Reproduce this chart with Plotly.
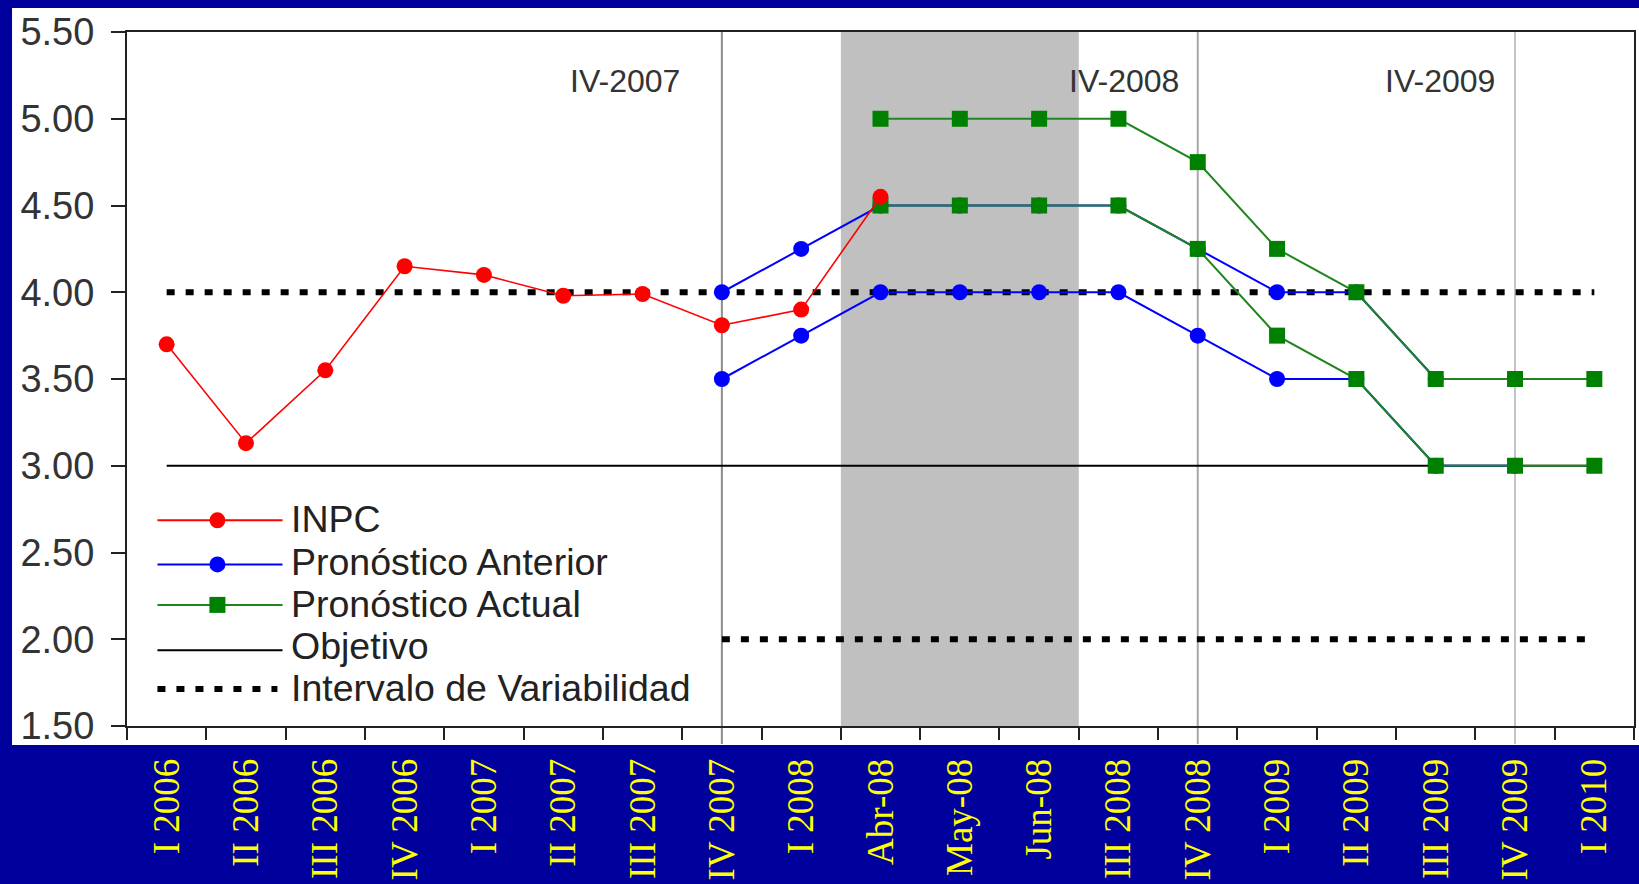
import plotly.graph_objects as go

# Trimestres / meses del eje horizontal
categorias = [
    "I 2006", "II 2006", "III 2006", "IV 2006", "I 2007", "II 2007", "III 2007",
    "IV 2007", "I 2008", "Abr-08", "May-08", "Jun-08", "III 2008", "IV 2008",
    "I 2009", "II 2009", "III 2009", "IV 2009", "I 2010",
]

# Inflación anual observada (INPC)
inpc = [3.70, 3.13, 3.55, 4.15, 4.10, 3.98, 3.99, 3.81, 3.90, 4.55,
        None, None, None, None, None, None, None, None, None]

# Pronóstico anterior: límites superior e inferior
anterior_sup = [None, None, None, None, None, None, None,
                4.00, 4.25, 4.50, 4.50, 4.50, 4.50, 4.25, 4.00, 4.00, 3.50, 3.50, None]
anterior_inf = [None, None, None, None, None, None, None,
                3.50, 3.75, 4.00, 4.00, 4.00, 4.00, 3.75, 3.50, 3.50, 3.00, 3.00, None]

# Pronóstico actual: límites superior e inferior
actual_sup = [None, None, None, None, None, None, None, None, None,
              5.00, 5.00, 5.00, 5.00, 4.75, 4.25, 4.00, 3.50, 3.50, 3.50]
actual_inf = [None, None, None, None, None, None, None, None, None,
              4.50, 4.50, 4.50, 4.50, 4.25, 3.75, 3.50, 3.00, 3.00, 3.00]

# Objetivo de inflación e intervalo de variabilidad
objetivo = 3.00
intervalo_sup = 4.00
intervalo_inf = 2.00
inicio_intervalo_inf = "IV 2007"

# Periodo sombreado y líneas de referencia
periodo_sombreado = ["Abr-08", "Jun-08"]
cortes = ["IV 2007", "IV 2008", "IV 2009"]
etiquetas_cortes = ["IV-2007", "IV-2008", "IV-2009"]

y_ticks = [1.50, 2.00, 2.50, 3.00, 3.50, 4.00, 4.50, 5.00, 5.50]

ROJO = "#FF0000"
AZUL = "#0000FF"
VERDE = "#008000"
VERDE_LINEA = "#1F861F"
NEGRO = "#000000"
TEXTO = "#333333"
FONDO = "#00009C"

DOT = "8px,11px"
MARCA = 16


def serie(valores):
    xs = [c for c, v in zip(categorias, valores) if v is not None]
    ys = [v for v in valores if v is not None]
    return xs, ys


fig = go.Figure()

# Objetivo (línea continua)
fig.add_trace(go.Scatter(
    x=categorias, y=[objetivo] * len(categorias), mode="lines",
    line=dict(color=NEGRO, width=2), name="Objetivo", hoverinfo="skip"))

# Intervalo de variabilidad (punteado)
fig.add_trace(go.Scatter(
    x=categorias, y=[intervalo_sup] * len(categorias), mode="lines",
    line=dict(color=NEGRO, width=6, dash=DOT), name="Intervalo de Variabilidad"))
i0 = categorias.index(inicio_intervalo_inf)
fig.add_trace(go.Scatter(
    x=categorias[i0:], y=[intervalo_inf] * len(categorias[i0:]), mode="lines",
    line=dict(color=NEGRO, width=6, dash=DOT), showlegend=False))

# Pronóstico anterior
for vals in (anterior_sup, anterior_inf):
    xs, ys = serie(vals)
    fig.add_trace(go.Scatter(
        x=xs, y=ys, mode="lines+markers",
        line=dict(color=AZUL, width=2),
        marker=dict(symbol="circle", size=MARCA, color=AZUL),
        name="Pronóstico Anterior"))

# Pronóstico actual
for vals in (actual_sup, actual_inf):
    xs, ys = serie(vals)
    fig.add_trace(go.Scatter(
        x=xs, y=ys, mode="lines+markers",
        line=dict(color=VERDE_LINEA, width=2),
        marker=dict(symbol="square", size=MARCA, color=VERDE),
        name="Pronóstico Actual"))

# INPC
xs, ys = serie(inpc)
fig.add_trace(go.Scatter(
    x=xs, y=ys, mode="lines+markers",
    line=dict(color=ROJO, width=1.6),
    marker=dict(symbol="circle", size=MARCA, color=ROJO),
    name="INPC"))

shapes = []
# Fondo blanco del gráfico
shapes.append(dict(type="rect", xref="paper", yref="paper",
                   x0=-0.0763, x1=1.01, y0=-0.0274, y1=1.0346,
                   fillcolor="white", line=dict(width=0), layer="below"))
# Periodo sombreado
ia = categorias.index(periodo_sombreado[0])
ib = categorias.index(periodo_sombreado[1])
shapes.append(dict(type="rect", xref="x", yref="paper",
                   x0=ia - 0.5, x1=ib + 0.5, y0=0, y1=1,
                   fillcolor="#C0C0C0", line=dict(width=0), layer="below"))
# Líneas verticales de referencia
grises = ["#8C8C8C", "#A8A8A8", "#C4C4C4"]
for c, g in zip(cortes, grises):
    k = categorias.index(c)
    shapes.append(dict(type="line", xref="x", yref="paper",
                       x0=k, x1=k, y0=-0.026, y1=1.0,
                       line=dict(color=g, width=2), layer="below"))

# Leyenda: (texto, color, símbolo, trazo, altura de la muestra, altura del texto)
filas = [
    ("INPC", ROJO, "circle", None, 0.2963, 0.2983),
    ("Pronóstico Anterior", AZUL, "circle", None, 0.2328, 0.2363),
    ("Pronóstico Actual", VERDE, "square", None, 0.1745, 0.1758),
    ("Objetivo", NEGRO, None, None, 0.1090, 0.1153),
    ("Intervalo de Variabilidad", NEGRO, None, DOT, 0.0533, 0.0548),
]
annotations = []
lx0, lx1, lxm, ltx = 0.0202, 0.1032, 0.0600, 0.1082
h = MARCA / 2
for texto, color, simbolo, dash, yy, yt in filas:
    if dash:
        shapes.append(dict(type="line", xref="paper", yref="paper",
                           x0=lx0, x1=0.0998, y0=yy, y1=yy,
                           line=dict(color=color, width=6, dash=dash)))
    else:
        shapes.append(dict(type="line", xref="paper", yref="paper",
                           x0=lx0, x1=lx1, y0=yy, y1=yy,
                           line=dict(color=color if color != VERDE else VERDE_LINEA,
                                     width=2)))
    if simbolo:
        shapes.append(dict(type="circle" if simbolo == "circle" else "rect",
                           xref="paper", yref="paper",
                           xsizemode="pixel", ysizemode="pixel",
                           xanchor=lxm, yanchor=yy,
                           x0=-h, x1=h, y0=-h, y1=h,
                           fillcolor=color, line=dict(width=0)))
    annotations.append(dict(xref="paper", yref="paper", x=ltx, y=yt,
                            xanchor="left", yanchor="middle", showarrow=False,
                            text=texto, borderpad=0,
                            font=dict(family="Liberation Sans", size=37.5, color="#222222")))

# Etiquetas de los cortes
desplazamientos = [-40, -17, -18]
for c, t, dx in zip(cortes, etiquetas_cortes, desplazamientos):
    annotations.append(dict(xref="x", yref="y", x=c, y=5.22,
                            xanchor="right", yanchor="middle", xshift=dx,
                            showarrow=False, text=t,
                            font=dict(family="Liberation Sans", size=32, color=TEXTO)))

fig.update_layout(
    width=1639, height=884,
    margin=dict(l=127, r=5, t=32, b=158, autoexpand=False),
    paper_bgcolor=FONDO,
    plot_bgcolor="white",
    showlegend=False,
    shapes=shapes,
    annotations=annotations,
    xaxis=dict(
        type="category", categoryorder="array", categoryarray=categorias,
        range=[-0.5, len(categorias) - 0.5], automargin=False,
        tickson="boundaries", ticks="outside", ticklen=12, tickwidth=2,
        tickcolor="#222222", showline=True, linecolor="#222222", linewidth=2,
        mirror=True, showgrid=False, zeroline=False, tickangle=-90,
        tickfont=dict(family="Liberation Serif", size=37, color="#FFFF00"),
        ticklabelstandoff=16,
    ),
    yaxis=dict(
        range=[1.5, 5.5], tickvals=y_ticks, tickformat=".2f", automargin=False,
        ticks="outside", ticklen=14, tickwidth=2, tickcolor="#222222",
        showline=True, linecolor="#222222", linewidth=2, mirror=True,
        showgrid=False, zeroline=False,
        tickfont=dict(family="Liberation Sans", size=38, color=TEXTO),
        ticklabelstandoff=9,
    ),
)

fig.write_html("out.html")
